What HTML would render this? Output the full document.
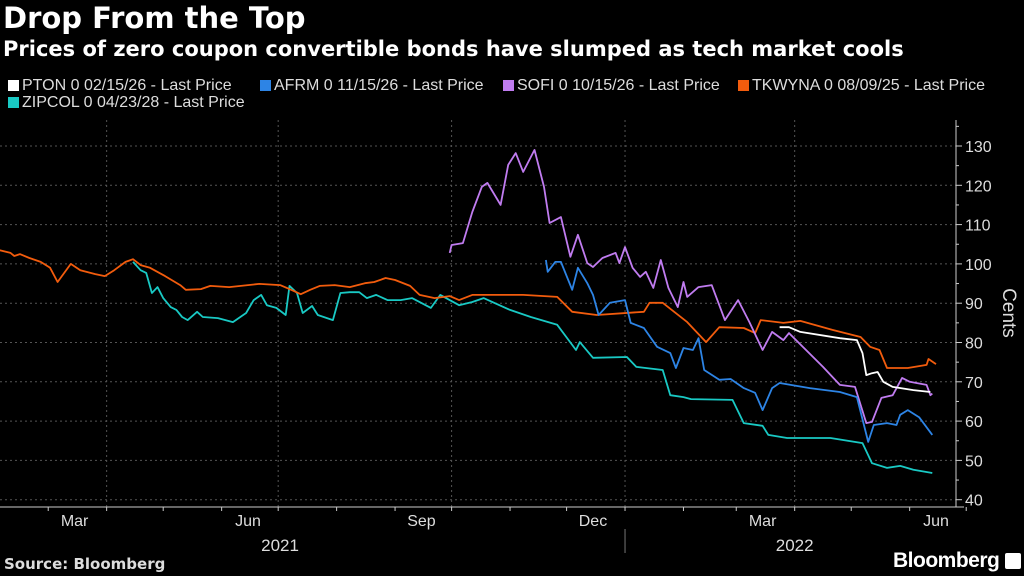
<!DOCTYPE html>
<html><head><meta charset="utf-8"><style>
body{margin:0;background:#000;width:1024px;height:576px;overflow:hidden;font-family:"Liberation Sans",sans-serif;color:#fff}
#t{position:absolute;left:3px;top:1px;font-size:29px;font-weight:bold;font-family:"DejaVu Sans",sans-serif;white-space:nowrap}
#s{position:absolute;left:3px;top:37px;font-size:21px;font-weight:bold;font-family:"DejaVu Sans",sans-serif;white-space:nowrap}
.lg{position:absolute;font-size:16px;color:#ddd;white-space:nowrap}
.sw{display:inline-block;width:11px;height:11px;margin-right:3px;vertical-align:-1px}
#src{position:absolute;left:4px;top:555px;font-size:15px;font-weight:bold;color:#ddd;font-family:"DejaVu Sans",sans-serif}
#bb{position:absolute;left:893px;top:549px;font-size:21px;font-weight:bold;letter-spacing:-0.5px}
</style></head><body>
<div id="t">Drop From the Top</div>
<div id="s">Prices of zero coupon convertible bonds have slumped as tech market cools</div>
<div class="lg" style="left:8px;top:77px"><span class="sw" style="background:#fff"></span>PTON 0 02/15/26 - Last Price</div>
<div class="lg" style="left:260px;top:77px"><span class="sw" style="background:#2d84e5"></span>AFRM 0 11/15/26 - Last Price</div>
<div class="lg" style="left:503px;top:77px"><span class="sw" style="background:#c07cf0"></span>SOFI 0 10/15/26 - Last Price</div>
<div class="lg" style="left:738px;top:77px"><span class="sw" style="background:#f25c0d"></span>TKWYNA 0 08/09/25 - Last Price</div>
<div class="lg" style="left:8px;top:94px"><span class="sw" style="background:#19c9c4"></span>ZIPCOL 0 04/23/28 - Last Price</div>
<svg id="c" width="1024" height="576" style="position:absolute;left:0;top:0"></svg>
<div id="src">Source: Bloomberg</div>
<div id="bb">Bloomberg <span style="display:inline-block;width:16px;height:16px;background:#fff;border-radius:2px;vertical-align:-2px"></span></div>
<script>
// days since 2021-01-01
const yTicks=[40,50,60,70,80,90,100,110,120,130];
const monthLabels=["Mar","Jun","Sep","Dec","Mar","Jun"];
const monthLabelDays=[73,165,257,348,438,530];
const quarterDays=[90,181,273,365,455];
const tkwDays=[33,39,41,44,49,55,60,64,71,76,84,89,94,100,104,108,113,121,129,132,140,145,155,171,182,187,193,198,203,211,219,227,232,238,243,251,256,264,272,277,284,288,311,329,337,350,375,378,385,398,408,415,428,434,437,449,458,475,490,495,500,504,515,525,526,530];
const tkwVals=[103.5,102.8,102.0,102.5,101.5,100.5,99.0,95.4,100.0,98.4,97.4,96.9,98.4,100.5,101.2,99.7,99.0,96.9,94.6,93.4,93.6,94.4,94.1,94.9,94.6,93.6,92.3,93.4,94.4,94.6,94.1,95.1,95.4,96.4,95.9,94.4,92.1,91.3,91.8,90.8,92.1,92.1,92.1,91.6,87.8,87.0,87.8,90.1,90.1,85.2,80.1,83.9,83.7,82.4,85.7,85.0,85.5,83.2,81.4,78.9,78.1,73.5,73.5,74.3,75.8,74.5];
const zipDays=[104,108,111,114,117,120,124,127,130,133,138,141,149,157,164,168,172,175,180,185,187,191,194,199,202,210,214,219,224,228,233,239,246,252,262,267,277,284,290,304,315,329,339,341,348,366,371,385,389,396,400,422,428,438,441,451,474,491,496,504,511,518,528];
const zipVals=[100.5,98.4,97.7,92.6,94.1,91.3,89.0,88.3,86.5,85.7,87.8,86.5,86.2,85.2,87.5,90.8,92.1,89.5,88.8,87.0,94.4,92.6,87.5,89.3,87.0,85.7,92.6,92.8,92.8,91.3,92.1,90.8,90.8,91.3,88.8,92.1,89.5,90.3,91.3,88.3,86.5,84.5,78.1,80.1,76.1,76.3,73.8,73.0,66.6,66.1,65.6,65.4,59.5,58.8,56.5,55.7,55.7,54.4,49.3,48.1,48.6,47.6,46.8];
const sofiDays=[272,273,279,284,289,292,299,303,307,311,317,322,325,331,336,340,345,348,353,360,362,365,369,373,376,380,384,388,393,396,398,404,411,418,425,431,438,443,449,452,462,470,479,487,493,496,501,507,512,516,525,527,528];
const sofiVals=[102.8,104.8,105.3,113.2,119.6,120.6,115.0,125.2,128.2,123.4,129.0,119.6,110.4,111.9,101.8,107.4,100.2,99.2,101.5,102.8,100.2,104.3,99.0,96.7,98.0,93.9,101.0,93.9,89.0,95.4,91.6,94.1,94.6,85.7,90.8,85.2,78.1,82.7,80.6,82.4,77.6,73.8,69.2,68.7,59.5,59.8,65.9,66.6,71.0,70.0,69.2,66.6,67.0];
const afrmDays=[323,324,328,331,337,340,345,348,351,357,365,368,375,382,389,392,396,401,404,407,415,421,428,434,438,443,447,463,479,488,494,497,504,509,511,515,521,528];
const afrmVals=[101.0,98.0,100.5,100.5,93.4,99.0,95.1,92.1,87.0,90.1,90.8,85.0,83.7,78.9,77.3,73.5,78.6,78.1,81.1,73.0,70.5,70.7,68.4,67.2,62.8,68.4,69.7,68.4,67.4,66.1,54.7,59.0,59.5,59.0,61.6,62.8,61.0,56.5];
const ptonDays=[447,452,458,479,488,491,493,496,499,502,507,518,527];
const ptonVals=[83.9,83.9,82.7,81.1,80.6,77.3,71.7,72.2,72.5,70.0,68.7,67.9,67.4];

const svg=document.getElementById('c');const NS='http://www.w3.org/2000/svg';
const L=0,R=956,T=120,B=507;
const x=d=>-63+d*1.885;
const y=v=>146+(130-v)*3.93;
function mk(tag,a){const e=document.createElementNS(NS,tag);for(const k in a)e.setAttribute(k,a[k]);svg.appendChild(e);return e;}
yTicks.forEach(v=>{
 const g=mk('line',{x1:L,x2:R,y1:y(v),y2:y(v),stroke:'#555','stroke-dasharray':'2,3','stroke-width':1});
 
 
 mk('line',{x1:R,x2:R+6,y1:y(v),y2:y(v),stroke:'#ccc'});
 mk('line',{x1:R,x2:R+3,y1:y(v+5),y2:y(v+5),stroke:'#ccc'});
 const t=mk('text',{x:R+9,y:y(v)+6,fill:'#ddd','font-size':16,'font-family':'Liberation Sans, sans-serif'});
 t.textContent=v;
 
 
});
quarterDays.forEach(d=>{
 const g=mk('line',{x1:x(d),x2:x(d),y1:T,y2:B,stroke:'#555','stroke-dasharray':'2,3'});
 
 
});
mk('line',{x1:R,x2:R,y1:T,y2:B,stroke:'#ccc'});
mk('line',{x1:0,x2:R+8,y1:B,y2:B,stroke:'#ccc'});
for(let m=0;m<18;m++){const d=[31,59,90,120,151,181,212,243,273,304,334,365,396,424,455,485,516,546][m];mk('line',{x1:x(d),x2:x(d),y1:B,y2:B+4,stroke:'#ccc'});}
mk('line',{x1:x(365),x2:x(365),y1:B+22,y2:B+46,stroke:'#777'});
monthLabels.forEach((m,i)=>{const t=mk('text',{x:x(monthLabelDays[i]),y:B+19,fill:'#ddd','font-size':16,'text-anchor':'middle','font-family':'Liberation Sans, sans-serif'});t.textContent=m;
 
 });
[['2021',x(182)],['2022',x(455)]].forEach(p=>{const t=mk('text',{x:p[1],y:B+44,fill:'#ddd','font-size':17,'text-anchor':'middle','font-family':'Liberation Sans, sans-serif'});t.textContent=p[0];
 
 });
const yt=mk('text',{x:1003,y:313,fill:'#ddd','font-size':19,'text-anchor':'middle',transform:'rotate(90 1003 313)','font-family':'Liberation Sans, sans-serif'});yt.textContent='Cents';


function line(days,vals,col,name){
 const p=mk('polyline',{points:days.map((d,i)=>x(d).toFixed(1)+','+y(vals[i]).toFixed(1)).join(' '),fill:'none',stroke:col,'stroke-width':1.8,'stroke-linejoin':'round'});
 
 
}
line(zipDays,zipVals,'#19c9c4','series-zipcol');
line(tkwDays,tkwVals,'#f25c0d','series-tkwyna');
line(sofiDays,sofiVals,'#c07cf0','series-sofi');
line(afrmDays,afrmVals,'#2d84e5','series-afrm');
line(ptonDays,ptonVals,'#ffffff','series-pton');
</script>
</body></html>
